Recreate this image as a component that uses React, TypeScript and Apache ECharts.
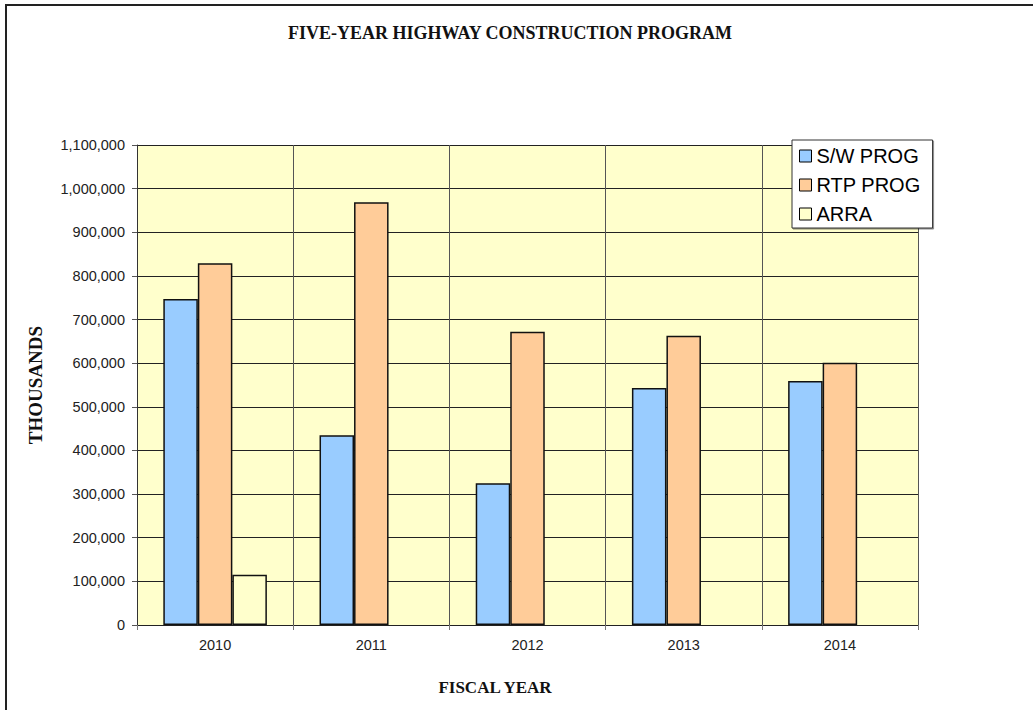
import React, { useEffect, useRef } from "react";
import * as echarts from "echarts";

const years = ["2010", "2011", "2012", "2013", "2014"];
const swProg = [747000, 435000, 325000, 543000, 559000];
const rtpProg = [829000, 969000, 672000, 663000, 601000];
const arra: (number | null)[] = [115000, null, null, null, null];
const seriesNames = ["S/W PROG", "RTP PROG", "ARRA"];

export default function App() {
  const ref = useRef<HTMLDivElement>(null);
  useEffect(() => {
    if (!ref.current) return;
    const chart = echarts.init(ref.current, null, { renderer: "svg" });
    const barStyle = (color: string) => ({
      color,
      borderColor: "#111",
      borderWidth: 1.5,
    });
    chart.setOption({
      animation: false,
      backgroundColor: "#fff",
      grid: {
        left: 137,
        top: 145,
        width: 781,
        height: 480,
        show: true,
        backgroundColor: "#FFFFCC",
        borderWidth: 0,
      },
      legend: {
        orient: "vertical",
        left: 792,
        top: 140,
        data: seriesNames,
        icon: "rect",
        itemWidth: 12,
        itemHeight: 12,
        itemGap: 7,
        padding: [5, 12, 3, 7],
        backgroundColor: "#fff",
        borderColor: "#333",
        borderWidth: 1,
        shadowColor: "rgba(0,0,0,0.45)",
        shadowOffsetX: 1,
        shadowOffsetY: 1,
        shadowBlur: 0,
        itemStyle: { borderColor: "#000", borderWidth: 1 },
        textStyle: {
          fontFamily: "Liberation Sans, Arial, sans-serif",
          fontSize: 20,
          lineHeight: 22,
          color: "#000",
          padding: [0, 0, 0, 0],
        },
      },
      xAxis: {
        type: "category",
        data: years,
        boundaryGap: true,
        axisLine: { show: true, lineStyle: { color: "#222", width: 1 } },
        axisTick: { show: true, length: 5, lineStyle: { color: "#777" } },
        axisLabel: {
          margin: 12,
          fontFamily: "Liberation Sans, Arial, sans-serif",
          fontSize: 14.5,
          color: "#222",
        },
        splitLine: { show: true, lineStyle: { color: "#555", width: 1 } },
      },
      yAxis: {
        type: "value",
        min: 0,
        max: 1100000,
        interval: 100000,
        axisLine: { show: true, lineStyle: { color: "#333", width: 1 } },
        axisTick: { show: true, length: 5, lineStyle: { color: "#555" } },
        axisLabel: {
          margin: 12,
          fontFamily: "Liberation Sans, Arial, sans-serif",
          fontSize: 14.5,
          color: "#222",
          formatter: (v: number) => v.toLocaleString("en-US"),
        },
        splitLine: { show: true, lineStyle: { color: "#222", width: 1 } },
      },
      series: [
        {
          name: seriesNames[0],
          type: "bar",
          data: swProg,
          barGap: "0%",
          barCategoryGap: "33.7%",
          itemStyle: barStyle("#99CCFF"),
        },
        {
          name: seriesNames[1],
          type: "bar",
          data: rtpProg,
          barGap: "0%",
          barCategoryGap: "33.7%",
          itemStyle: barStyle("#FFCC99"),
        },
        {
          name: seriesNames[2],
          type: "bar",
          data: arra,
          barGap: "0%",
          barCategoryGap: "33.7%",
          itemStyle: barStyle("#FFFFCC"),
        },
      ],
      graphic: [
        {
          type: "rect",
          shape: { x: 6, y: 5, width: 2000, height: 2000 },
          style: { fill: "none", stroke: "#222", lineWidth: 2 },
          silent: true,
          z: 100,
        },
        {
          type: "text",
          x: 510,
          y: 33,
          style: {
            text: "FIVE-YEAR HIGHWAY CONSTRUCTION PROGRAM",
            fontFamily: "Liberation Serif, Times New Roman, serif",
            fontWeight: "bold",
            fontSize: 18,
            fill: "#111",
            align: "center",
            verticalAlign: "middle",
          },
        },
        {
          type: "text",
          x: 495,
          y: 687,
          style: {
            text: "FISCAL YEAR",
            fontFamily: "Liberation Serif, Times New Roman, serif",
            fontWeight: "bold",
            fontSize: 17,
            fill: "#111",
            align: "center",
            verticalAlign: "middle",
          },
        },
        {
          type: "text",
          x: 35,
          y: 385,
          rotation: Math.PI / 2,
          style: {
            text: "THOUSANDS",
            fontFamily: "Liberation Serif, Times New Roman, serif",
            fontWeight: "bold",
            fontSize: 19,
            fill: "#111",
            align: "center",
            verticalAlign: "middle",
          },
        },
      ],
    });
    return () => chart.dispose();
  }, []);
  return (
    <div
      ref={ref}
      style={{ position: "fixed", left: 0, top: 0, width: 1033, height: 710 }}
    />
  );
}
